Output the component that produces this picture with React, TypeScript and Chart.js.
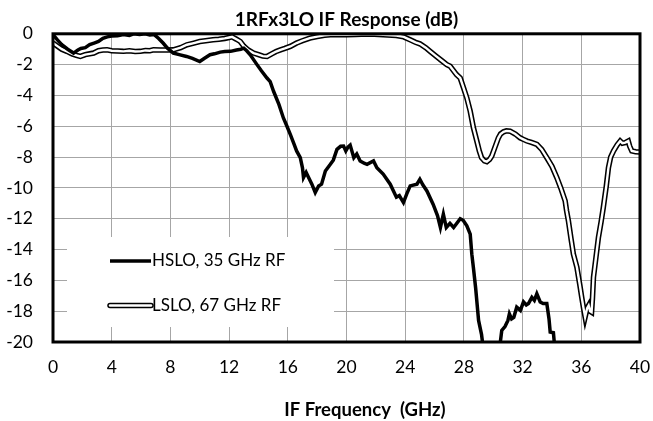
import React, { useEffect, useRef } from "react";
import { Chart, registerables } from "chart.js";

Chart.register(...registerables);

const chartTitle = "1RFx3LO IF Response (dB)";
const xAxisTitle = "IF Frequency  (GHz)";
const hsloLabel = "HSLO, 35 GHz RF";
const lsloLabel = "LSLO, 67 GHz RF";

const xTickStep = 4;
const yTickStep = 2;

const hsloFreq = [
  0.0, 0.3, 0.6, 1.0, 1.4, 1.7, 1.9, 2.2, 2.5, 2.8, 3.1, 3.4, 3.7, 4.0, 4.4, 4.8, 5.2, 5.5, 5.9, 6.3,
  6.6, 6.9, 7.2, 7.5, 7.8, 8.2, 8.6, 9.1, 9.5, 10.0, 10.3, 10.7, 11.0, 11.4, 11.7, 12.1, 12.5, 12.8, 13.0, 13.2,
  13.44, 13.9, 14.2, 14.58, 14.8, 15.03, 15.4, 15.7, 15.9, 16.17, 16.4, 16.6, 16.85, 17.0, 17.07, 17.25, 17.4, 17.64, 17.87, 18.1,
  18.3, 18.56, 18.9, 19.1, 19.35, 19.6, 19.8, 19.95, 20.1, 20.25, 20.5, 20.7, 20.93, 21.2, 21.4, 21.84, 22.07, 22.5, 22.98, 23.2,
  23.4, 23.6, 23.88, 24.1, 24.34, 24.8, 25.0, 25.2, 25.48, 25.9, 26.2, 26.4, 26.6, 26.8, 27.05, 27.3, 27.75, 27.95, 28.2, 28.43,
  28.54, 28.65, 28.8, 29.0, 29.2, 29.4, 30.4, 30.47, 30.58, 30.8, 31.0, 31.1, 31.25, 31.4, 31.6, 31.85, 32.06, 32.25, 32.4, 32.63,
  32.8, 32.97, 33.2, 33.4, 33.65, 33.8, 33.88, 34.1, 34.25,
];
const hsloDb = [
  -0.05, -0.4, -0.7, -1.0, -1.25, -1.05, -0.95, -0.9, -0.7, -0.6, -0.5, -0.3, -0.2, -0.15, -0.12, -0.05, -0.1, 0.0, -0.05, 0.0,
  -0.08, -0.05, -0.3, -0.6, -0.93, -1.25, -1.35, -1.47, -1.6, -1.8, -1.6, -1.36, -1.3, -1.19, -1.15, -1.14, -1.05, -1.0, -0.93, -1.1,
  -1.36, -2.0, -2.4, -2.87, -3.1, -3.73, -4.6, -5.46, -5.9, -6.53, -7.1, -7.6, -8.04, -8.7, -9.33, -9.0, -9.3, -9.76, -10.3, -9.87,
  -9.76, -8.9, -8.47, -8.2, -7.5, -7.3, -7.29, -7.6, -7.35, -7.22, -8.04, -7.8, -8.25, -8.4, -8.47, -8.25, -8.69, -9.1, -9.76, -10.2,
  -10.6, -10.5, -10.95, -10.4, -9.87, -9.76, -9.44, -9.8, -10.2, -11.06, -11.8, -12.57, -11.7, -12.57, -12.3, -12.57, -12.0, -12.1, -12.46, -13.0,
  -14.3, -15.2, -16.5, -18.6, -19.5, -21.0, -21.0, -20.1, -19.25, -19.0, -18.6, -18.17, -18.5, -18.4, -17.74, -17.95, -17.4, -17.6, -17.5, -17.1,
  -17.3, -16.87, -17.4, -17.5, -17.5, -18.5, -19.35, -19.4, -21.0,
];

const lsloFreq = [
  0.0, 0.3, 0.6, 0.95, 1.3, 1.6, 1.86, 2.2, 2.5, 2.77, 3.1, 3.4, 3.68, 4.0, 4.4, 4.8, 5.2, 5.6, 5.95, 6.3,
  6.6, 6.85, 7.3, 7.8, 8.2, 8.7, 9.13, 9.6, 10.0, 10.4, 10.9, 11.3, 11.7, 12.0, 12.2, 12.5, 12.76, 13.0, 13.3, 13.67,
  14.0, 14.3, 14.58, 14.9, 15.2, 15.5, 15.8, 16.17, 16.6, 17.0, 17.5, 18.0, 18.5, 18.9, 19.5, 20.0, 20.6, 21.0, 21.6, 22.2,
  22.8, 23.4, 23.9, 24.34, 24.7, 25.0, 25.4, 25.7, 26.1, 26.5, 26.84, 27.06, 27.5, 27.75, 27.97, 28.2, 28.43, 28.65, 28.88, 29.05,
  29.2, 29.4, 29.56, 29.75, 29.9, 30.1, 30.35, 30.5, 30.7, 30.9, 31.15, 31.5, 31.83, 32.05, 32.3, 32.6, 32.97, 33.3, 33.65, 34.0,
  34.33, 34.6, 34.9, 35.0, 35.12, 35.3, 35.46, 35.7, 35.9, 36.03, 36.15, 36.26, 36.4, 36.5, 36.6, 36.7, 36.76, 36.83, 37.0, 37.17,
  37.35, 37.5, 37.7, 37.85, 38.0, 38.2, 38.45, 38.65, 38.8, 38.99, 39.2, 39.3, 39.44, 39.7, 40.0,
];
const lsloDb = [
  -0.6, -0.8, -1.0, -1.14, -1.3, -1.4, -1.47, -1.35, -1.3, -1.25, -1.1, -1.05, -1.04, -1.1, -1.12, -1.14, -1.1, -1.15, -1.14, -1.08,
  -1.1, -1.04, -1.05, -1.05, -1.04, -0.9, -0.71, -0.6, -0.5, -0.45, -0.39, -0.35, -0.3, -0.24, -0.2, -0.35, -0.5, -0.8, -1.05, -1.25,
  -1.35, -1.45, -1.47, -1.3, -1.15, -1.04, -0.95, -0.82, -0.6, -0.45, -0.28, -0.18, -0.1, -0.06, -0.05, -0.06, -0.05, -0.03, -0.02, -0.05,
  -0.08, -0.11, -0.2, -0.39, -0.55, -0.65, -0.9, -1.14, -1.45, -1.75, -2.0, -2.1, -2.65, -2.87, -3.5, -4.16, -5.02, -6.1, -6.96, -7.6,
  -8.04, -8.25, -8.3, -8.15, -7.93, -7.4, -6.75, -6.5, -6.36, -6.3, -6.32, -6.5, -6.75, -6.85, -6.96, -7.05, -7.17, -7.5, -8.04, -8.6,
  -9.33, -10.0, -10.84, -11.5, -12.13, -13.3, -14.29, -15.15, -16.3, -17.1, -17.8, -18.38, -17.8, -17.63, -18.0, -18.06, -17.2, -15.8, -14.5, -13.2,
  -12.2, -11.27, -9.9, -8.69, -8.0, -7.6, -7.2, -6.96, -7.1, -7.06, -6.96, -7.3, -7.6, -7.65, -7.67,
];

const FONT = "Lato";

const toPoints = (xs: number[], ys: number[]) => xs.map((x, i) => ({ x, y: ys[i] }));

const framePlugin = {
  id: "frameAndLegend",
  beforeDatasetsDraw(chart: any) {
    const { ctx } = chart;
    ctx.save();
    ctx.fillStyle = "#ffffff";
    ctx.fillRect(67, 237, 267, 90);
    ctx.restore();
  },
  afterDatasetsDraw(chart: any) {
    const { ctx, chartArea } = chart;
    ctx.save();
    const lx0 = 110;
    const lx1 = 151;
    const y1 = 261;
    const y2 = 305.5;
    ctx.lineCap = "butt";
    ctx.strokeStyle = "#000";
    ctx.lineWidth = 3.5;
    ctx.beginPath();
    ctx.moveTo(lx0, y1);
    ctx.lineTo(lx1, y1);
    ctx.stroke();
    ctx.lineCap = "round";
    ctx.lineWidth = 5.5;
    ctx.beginPath();
    ctx.moveTo(lx0, y2);
    ctx.lineTo(lx1, y2);
    ctx.stroke();
    ctx.strokeStyle = "#fff";
    ctx.lineWidth = 2.4;
    ctx.beginPath();
    ctx.moveTo(lx0, y2);
    ctx.lineTo(lx1, y2);
    ctx.stroke();
    ctx.fillStyle = "#000";
    ctx.font = `17px ${FONT}`;
    ctx.textBaseline = "middle";
    ctx.textAlign = "left";
    ctx.fillText(hsloLabel, 152, y1);
    ctx.fillText(lsloLabel, 152, y2);
    // x axis title
    ctx.font = `bold 18.5px ${FONT}`;
    ctx.textAlign = "center";
    ctx.fillText(xAxisTitle, 365, 410);
    // frame
    ctx.strokeStyle = "#000";
    ctx.lineWidth = 3;
    ctx.strokeRect(
      chartArea.left,
      chartArea.top,
      chartArea.right - chartArea.left,
      chartArea.bottom - chartArea.top
    );
    ctx.restore();
  },
};

export default function App() {
  const ref = useRef<HTMLCanvasElement | null>(null);

  useEffect(() => {
    if (!ref.current) return;
    const chart = new Chart(ref.current, {
      type: "line",
      data: {
        datasets: [
          {
            label: hsloLabel,
            data: toPoints(hsloFreq, hsloDb),
            borderColor: "#000",
            borderWidth: 3.5,
            pointRadius: 0,
            tension: 0,
            fill: false,
          },
          {
            label: lsloLabel + " inner",
            data: toPoints(lsloFreq, lsloDb),
            borderColor: "#fff",
            borderWidth: 2.4,
            pointRadius: 0,
            tension: 0,
            fill: false,
          },
          {
            label: lsloLabel,
            data: toPoints(lsloFreq, lsloDb),
            borderColor: "#000",
            borderWidth: 5.5,
            pointRadius: 0,
            tension: 0,
            fill: false,
          },
        ],
      },
      options: {
        animation: false,
        responsive: false,
        devicePixelRatio: 1,
        layout: { padding: { left: 0, right: 13, top: 0, bottom: 0 } },
        plugins: {
          legend: { display: false },
          tooltip: { enabled: false },
          title: {
            display: true,
            fullSize: false,
            text: chartTitle,
            color: "#000",
            font: { family: FONT, size: 19, weight: "bold" },
            padding: { top: 8, bottom: 3 },
          },
        },
        scales: {
          x: {
            type: "linear",
            min: 0,
            max: 40,
            ticks: {
              stepSize: xTickStep,
              color: "#000",
              font: { family: FONT, size: 17.5 },
              padding: 0,
              maxRotation: 0,
            },
            grid: {
              color: "#a6a6a6",
              lineWidth: 1,
              drawTicks: true,
              tickLength: 15,
              tickColor: "rgba(0,0,0,0)",
            },
            border: { display: false },
            afterFit: (s: any) => {
              s.height = 79;
            },
          },
          y: {
            type: "linear",
            min: -20,
            max: 0,
            ticks: {
              stepSize: yTickStep,
              color: "#000",
              font: { family: FONT, size: 17.5 },
              padding: 20,
            },
            grid: { color: "#a6a6a6", lineWidth: 1, drawTicks: false },
            border: { display: false },
            afterFit: (s: any) => {
              s.width = 53;
            },
          },
        },
      },
      plugins: [framePlugin],
    });
    return () => chart.destroy();
  }, []);

  return (
    <div style={{ position: "fixed", left: 0, top: 0, width: 653, height: 421, background: "#fff" }}>
      <canvas ref={ref} width={653} height={421} />
    </div>
  );
}
